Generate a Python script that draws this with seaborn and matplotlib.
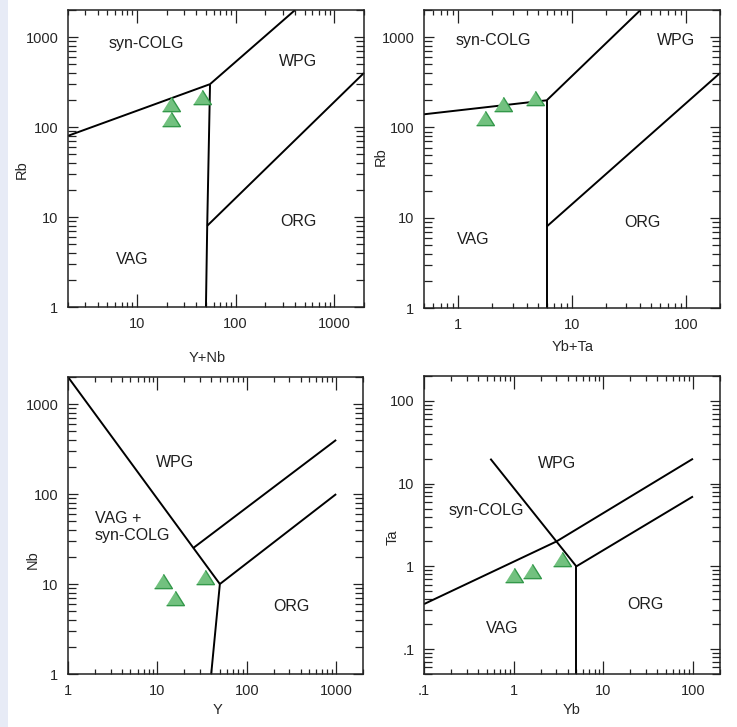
import matplotlib.pyplot as plt
import matplotlib.ticker as mticker
from matplotlib.patches import Rectangle
import seaborn as sns
import pandas as pd

sns.set_style('ticks')
plt.rcParams['font.family'] = ['Liberation Sans', 'DejaVu Sans']

# sample values
ynb = [22, 22, 46]
rb_ynb = [181, 124, 214]
ybta = [1.72, 2.47, 4.7]
rb_ybta = [126, 181, 210]
y_vals = [11.7, 15.6, 34.4]
nb = [10.9, 7.0, 12.1]
yb = [1.0, 1.6, 3.5]
ta = [0.78, 0.87, 1.22]

# field boundaries (x list, y list) for each diagram
lines_rb_ynb = [([2, 55], [80, 300]), ([55, 400], [300, 2000]),
                ([55, 51.5, 50], [300, 8, 1]), ([51.5, 2000], [8, 400])]
lines_rb_ybta = [([0.5, 6], [140, 200]), ([6, 40], [200, 2000]),
                 ([6, 6], [200, 1]), ([6, 200], [8, 400])]
lines_nb_y = [([1, 50], [2000, 10]), ([50, 1000], [10, 100]),
              ([25, 1000], [25, 400]), ([50, 40], [10, 1])]
lines_ta_yb = [([0.1, 3, 100], [0.35, 2, 20]), ([0.55, 3, 5], [20, 2, 1]),
               ([5, 100], [1, 7]), ([5, 5], [1, 0.05])]

# field labels: (text, x, y, ha)
labels_rb_ynb = [('syn-COLG', 12.5, 850, 'center'), ('WPG', 430, 530, 'center'),
                 ('ORG', 430, 8.9, 'center'), ('VAG', 8.9, 3.35, 'center')]
labels_rb_ybta = [('syn-COLG', 2.02, 915, 'center'), ('WPG', 83, 915, 'center'),
                  ('ORG', 42, 8.9, 'center'), ('VAG', 1.35, 5.75, 'center')]
labels_nb_y = [('WPG', 15.6, 225, 'center'), ('VAG +\nsyn-COLG', 2.0, 43, 'left'),
               ('ORG', 314, 5.6, 'center')]
labels_ta_yb = [('WPG', 3.08, 17.5, 'center'), ('syn-COLG', 0.49, 4.7, 'center'),
                ('VAG', 0.74, 0.175, 'center'), ('ORG', 29.3, 0.344, 'center')]

panels = [
    dict(rect=[0.0923, 0.5777, 0.4016, 0.4085], x=ynb, y=rb_ynb, xlab='Y+Nb', ylab='Rb',
         xlim=(2, 2000), ylim=(1, 2000), xt=[10, 100, 1000], yt=[1, 10, 100, 1000],
         lines=lines_rb_ynb, labels=labels_rb_ynb, xl=(0.47, -0.172), yl=(-0.155, 0.461)),
    dict(rect=[0.5753, 0.5763, 0.4016, 0.4099], x=ybta, y=rb_ybta, xlab='Yb+Ta', ylab='Rb',
         xlim=(0.5, 200), ylim=(1, 2000), xt=[1, 10, 100], yt=[1, 10, 100, 1000],
         lines=lines_rb_ybta, labels=labels_rb_ybta, xl=(0.503, -0.131), yl=(-0.145, 0.507)),
    dict(rect=[0.0923, 0.0729, 0.4003, 0.4085], x=y_vals, y=nb, xlab='Y', ylab='Nb',
         xlim=(1, 2000), ylim=(1, 2000), xt=[1, 10, 100, 1000], yt=[1, 10, 100, 1000],
         lines=lines_nb_y, labels=labels_nb_y, xl=(0.505, -0.122), yl=(-0.119, 0.385)),
    dict(rect=[0.5753, 0.0729, 0.4016, 0.4099], x=yb, y=ta, xlab='Yb', ylab='Ta',
         xlim=(0.1, 200), ylim=(0.05, 200), xt=[0.1, 1, 10, 100], yt=[0.1, 1, 10, 100],
         lines=lines_ta_yb, labels=labels_ta_yb, xl=(0.497, -0.12), yl=(-0.105, 0.458)),
]

tri = [(-1, -0.8), (1, -0.8), (0, 0.8)]


def fmt(v, pos=None):
    return '.1' if abs(v - 0.1) < 1e-9 else f'{v:g}'


fig = plt.figure(figsize=(7.37, 7.27), dpi=100)
fig.patches.append(Rectangle((0, 0), 8 / 737, 1, transform=fig.transFigure,
                             facecolor='#e7ebf6', edgecolor='none', zorder=0))

for p in panels:
    ax = fig.add_axes(p['rect'])
    ax.set_xscale('log')
    ax.set_yscale('log')
    for xs, ys in p['lines']:
        ax.plot(xs, ys, color='black', lw=1.4, solid_capstyle='butt', zorder=2)
    df = pd.DataFrame({'x': p['x'], 'y': p['y']})
    sns.scatterplot(data=df, x='x', y='y', ax=ax, marker=tri, s=165,
                    color='#72c17f', edgecolor='#33984a', linewidth=1.0, zorder=3)
    for txt, tx, ty, ha in p['labels']:
        ax.text(tx, ty, txt, ha=ha, va='center', fontsize=11.5, color='#1e1e1e',
                linespacing=1.15)
    ax.set_xlim(*p['xlim'])
    ax.set_ylim(*p['ylim'])
    ax.xaxis.set_major_locator(mticker.FixedLocator(p['xt']))
    ax.yaxis.set_major_locator(mticker.FixedLocator(p['yt']))
    ax.xaxis.set_major_formatter(mticker.FuncFormatter(fmt))
    ax.yaxis.set_major_formatter(mticker.FuncFormatter(fmt))
    for a in (ax.xaxis, ax.yaxis):
        a.set_minor_locator(mticker.LogLocator(base=10, subs=range(2, 10), numticks=30))
        a.set_minor_formatter(mticker.NullFormatter())
    ax.tick_params(direction='in', top=True, right=True, which='both',
                   width=0.9, color='#222222', labelsize=10.5, pad=7)
    ax.tick_params(axis='x', which='major', length=9.5)
    ax.tick_params(axis='x', which='minor', length=3.6)
    ax.tick_params(axis='y', which='major', length=7.5)
    ax.tick_params(axis='y', which='minor', length=5.5)
    for sp in ax.spines.values():
        sp.set_linewidth(1.1)
        sp.set_color('#222222')
    ax.set_xlabel(p['xlab'], fontsize=10.5)
    ax.set_ylabel(p['ylab'], fontsize=10.5)
    ax.xaxis.label.set_va('center')
    ax.yaxis.label.set_va('center')
    ax.xaxis.set_label_coords(*p['xl'])
    ax.yaxis.set_label_coords(*p['yl'])

fig.savefig('out.png', dpi=100)
